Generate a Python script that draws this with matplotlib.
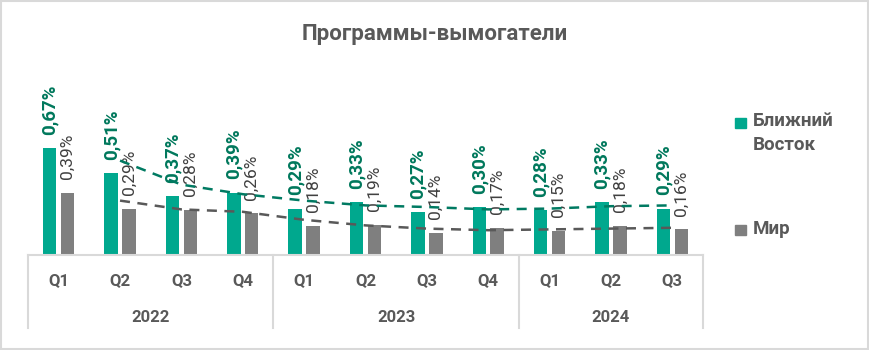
import matplotlib.pyplot as plt
from matplotlib.patches import Rectangle
import numpy as np
import pandas as pd

plt.rcParams['font.family'] = ['Roboto', 'DejaVu Sans']

# data
quarters = ['Q1', 'Q2', 'Q3', 'Q4', 'Q1', 'Q2', 'Q3', 'Q4', 'Q1', 'Q2', 'Q3']
years = ['2022', '2023', '2024']
year_sizes = [4, 4, 3]
middle_east = [0.67, 0.51, 0.37, 0.39, 0.29, 0.33, 0.27, 0.30, 0.28, 0.33, 0.29]
world = [0.39, 0.29, 0.28, 0.26, 0.18, 0.19, 0.14, 0.17, 0.15, 0.18, 0.16]
series_names = ['Ближний\nВосток', 'Мир']

green = '#00a88e'
green_dark = '#00785c'
grey = '#7f7f7f'
text_grey = '#595959'

W, H = 870, 350
fig = plt.figure(figsize=(8.7, 3.5), dpi=100)
fig.patches.append(Rectangle((0.001, 0.002), 0.997, 0.995, transform=fig.transFigure,
                             fill=False, edgecolor='#d9d9d9', linewidth=1.5))

ymax = 0.8
base_px = 255
top_px = base_px - ymax * 160
ax = fig.add_axes([28 / W, 1 - base_px / H, (703 - 28) / W, (base_px - top_px) / H])

x = np.arange(len(quarters))
bw = 0.22
off = 0.146
b1 = ax.bar(x - off, middle_east, bw, color=green)
b2 = ax.bar(x + off, world, bw, color=grey)

# value labels
def fmt(v):
    return f'{v:.2f}%'.replace('.', ',')

for xi, v in zip(x, middle_east):
    ax.annotate(fmt(v), (xi - off, v), xytext=(0, 9.5), textcoords='offset points',
                rotation=90, ha='center', va='bottom', fontsize=13.5, fontweight='bold',
                color=green_dark, annotation_clip=False)
for xi, v in zip(x, world):
    ax.annotate(fmt(v), (xi + off, v), xytext=(0, 10), textcoords='offset points',
                rotation=90, ha='center', va='bottom', fontsize=12.5, color='#404040',
                annotation_clip=False)

# moving average (2 periods) trend lines
ma1 = pd.Series(middle_east).rolling(2).mean()
ma2 = pd.Series(world).rolling(2).mean()
ax.plot(x, ma1, color='#007a62', linestyle=(0, (4, 3)), linewidth=1.8, zorder=3)
ax.plot(x, ma2, color='#595959', linestyle=(0, (4, 3)), linewidth=1.8, zorder=3)

ax.set_xlim(-0.5, len(quarters) - 0.5)
ax.set_ylim(0, ymax)
for s in ['top', 'right', 'left']:
    ax.spines[s].set_visible(False)
ax.spines['bottom'].set_color('#d9d9d9')
ax.spines['bottom'].set_linewidth(1.5)
ax.set_xticks([])
ax.set_yticks([])

# two-level category axis
px = 1 / 160
for xi, q in zip(x, quarters):
    ax.text(xi, -26 * px, q, ha='center', va='center', fontsize=12, fontweight='bold',
            color=text_grey)
start = 0
edges = [-0.5]
for yr, n in zip(years, year_sizes):
    ax.text(start + (n - 1) / 2, -63 * px, yr, ha='center', va='center', fontsize=12,
            fontweight='bold', color=text_grey)
    start += n
    edges.append(start - 0.5)
for e in edges:
    ax.plot([e, e], [0, -73 * px], color='#d9d9d9', linewidth=1.5, clip_on=False)

# title
fig.text(435 / W, 1 - 34 / H, 'Программы-вымогатели', ha='center', va='center',
         fontsize=16, fontweight='bold', color=text_grey)

# legend
for (cy, ty, label, col) in [(122.5, 122, series_names[0], green), (229.5, 230, series_names[1], grey)]:
    fig.patches.append(Rectangle((735 / W, 1 - (cy + 5) / H), 11 / W, 10 / H,
                                 transform=fig.transFigure, color=col))
    fig.text(753 / W, 1 - (ty - 10) / H, label, ha='left', va='top', fontsize=13.5,
             fontweight='bold', color=text_grey, linespacing=1.4)

fig.savefig('out.png', dpi=100)
